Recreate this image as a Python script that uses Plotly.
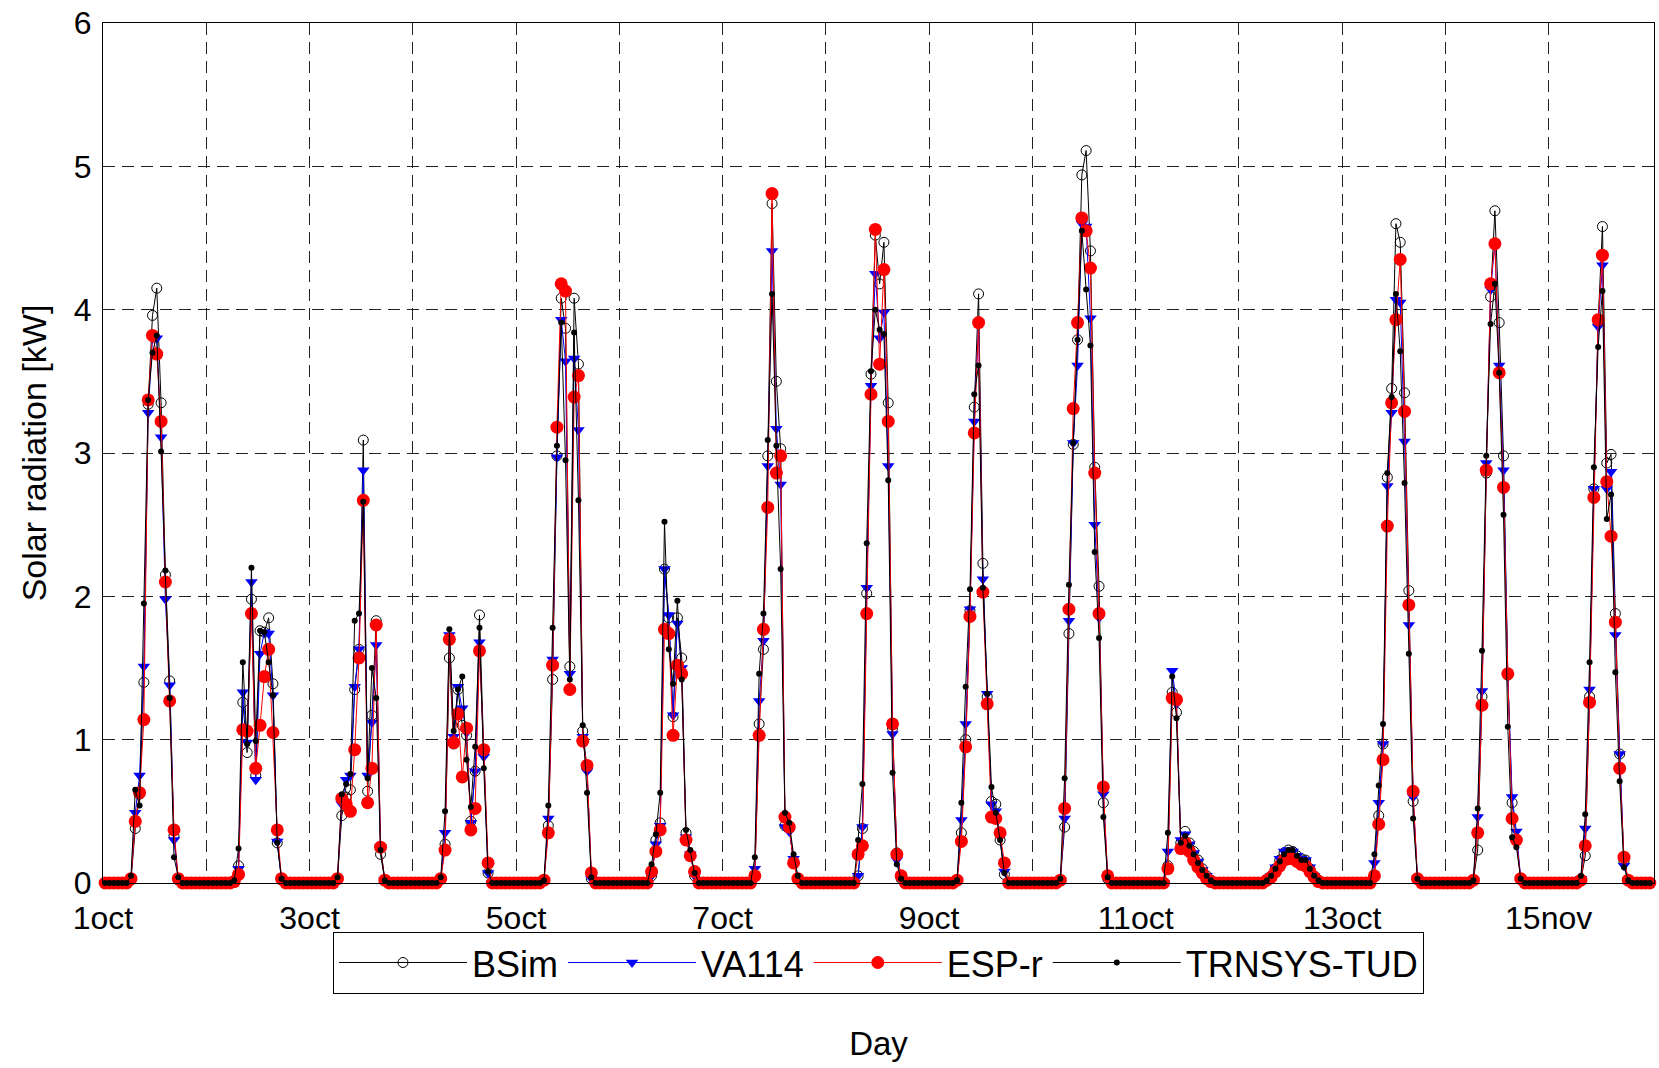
import plotly.graph_objects as go

# ---------------- data (kW) ----------------
# Each day: hourly values for hours 6..18 (slot centred at hour+0.5); all other hours are 0.
FIRST_HOUR = 6
HOURS_PER_DAY = 24
N_DAYS = 15

BSIM = [
    [.02, .38, .62, 1.40, 3.34, 3.96, 4.15, 3.35, 2.15, 1.41, .33, .02, 0],
    [.01, .12, 1.26, .91, 1.98, .75, 1.76, 1.75, 1.85, 1.39, .28, .02, 0],
    [.03, .47, .60, .65, 1.35, 1.63, 3.09, .64, 1.17, 1.83, .20, .02, 0],
    [.03, .27, 1.57, .97, 1.35, 1.10, 1.03, .43, .78, 1.87, .91, .07, 0],
    [.02, .40, 1.42, 2.98, 4.08, 3.87, 1.51, 4.08, 3.62, 1.06, .80, .03, 0],
    [0, .05, .30, .42, 2.19, 1.85, 1.16, 1.85, 1.57, .35, .20, .05, 0],
    [0, .05, 1.11, 1.63, 2.98, 4.74, 3.50, 3.03, .40, .38, .15, .03, 0],
    [0, .05, .38, 2.02, 3.55, 4.52, 4.18, 4.47, 3.35, 1.08, .21, .03, 0],
    [.02, .35, 1.00, 1.90, 3.32, 4.11, 2.23, 1.30, .57, .55, .30, .06, 0],
    [.02, .39, 1.74, 3.06, 3.79, 4.94, 5.11, 4.41, 2.90, 2.07, .56, .03, 0],
    [0, .12, 1.33, 1.19, .28, .36, .28, .22, .16, .10, .05, .02, 0],
    [.02, .05, .10, .16, .21, .23, .22, .19, .17, .16, .10, .05, .02],
    [0, .05, .47, .97, 2.83, 3.45, 4.60, 4.47, 3.42, 2.04, .57, .03, 0],
    [.02, .23, 1.30, 2.86, 4.09, 4.69, 3.91, 2.98, 1.45, .56, .30, .03, 0],
    [0, .02, .19, 1.30, 2.75, 3.91, 4.58, 2.93, 2.99, 1.88, .90, .15, .02],
]

VA114 = [
    [.03, .49, .75, 1.51, 3.28, 3.80, 3.80, 3.11, 1.98, 1.38, .30, .02, 0],
    [.01, .10, 1.33, .98, 2.10, .72, 1.60, 1.75, 1.74, 1.31, .29, .02, 0],
    [.03, .55, .72, .75, 1.37, 1.63, 2.88, .75, 1.12, 1.66, .25, .02, 0],
    [.03, .35, 1.73, 1.02, 1.37, 1.22, 1.05, .42, .78, 1.68, .88, .07, 0],
    [.02, .45, 1.56, 2.97, 3.93, 3.64, 1.46, 3.66, 3.16, 1.02, .78, .03, 0],
    [0, .05, .27, .40, 2.19, 1.87, 1.17, 1.81, 1.50, .32, .20, .05, 0],
    [0, .10, 1.27, 1.69, 2.91, 4.41, 3.17, 2.78, .39, .36, .17, .03, 0],
    [0, .05, .39, 2.06, 3.47, 4.25, 3.80, 3.98, 2.91, 1.04, .16, .03, 0],
    [.02, .44, 1.11, 1.91, 3.22, 3.91, 2.12, 1.32, .55, .50, .32, .08, 0],
    [.02, .45, 1.83, 3.07, 3.61, 4.60, 4.58, 3.94, 2.50, 1.85, .62, .04, 0],
    [0, .22, 1.48, 1.25, .30, .34, .27, .21, .15, .09, .05, .02, 0],
    [.02, .05, .11, .17, .22, .23, .22, .19, .17, .16, .11, .05, .02],
    [0, .14, .56, .97, 2.77, 3.28, 4.07, 4.05, 3.08, 1.80, .60, .03, 0],
    [.02, .46, 1.34, 2.93, 4.14, 4.46, 3.61, 2.88, 1.45, .60, .36, .03, 0],
    [0, .03, .38, 1.35, 2.75, 3.88, 4.31, 2.75, 2.87, 1.73, .90, .12, .02],
]

ESPR = [
    [.03, .43, .63, 1.14, 3.37, 3.82, 3.69, 3.22, 2.10, 1.27, .37, .03, 0],
    [.01, .06, 1.07, 1.06, 1.88, .80, 1.10, 1.44, 1.63, 1.05, .37, .03, 0],
    [.03, .59, .55, .50, .93, 1.57, 2.67, .56, .80, 1.80, .25, .02, 0],
    [.03, .23, 1.70, .98, 1.18, .74, 1.08, .37, .52, 1.62, .93, .14, 0],
    [.02, .35, 1.52, 3.18, 4.18, 4.13, 1.35, 3.39, 3.54, .99, .82, .07, 0],
    [0, .08, .22, .37, 1.77, 1.74, 1.03, 1.52, 1.46, .30, .19, .08, 0],
    [0, .05, 1.03, 1.77, 2.62, 4.81, 2.86, 2.98, .46, .39, .14, .03, 0],
    [0, .20, .26, 1.88, 3.41, 4.56, 3.62, 4.28, 3.22, 1.11, .20, .05, 0],
    [.02, .29, .95, 1.86, 3.14, 3.91, 2.03, 1.25, .46, .45, .35, .14, 0],
    [.02, .52, 1.91, 3.31, 3.91, 4.64, 4.55, 4.29, 2.86, 1.88, .67, .05, 0],
    [0, .10, 1.29, 1.28, .24, .28, .22, .16, .11, .07, .03, .01, 0],
    [.02, .04, .08, .12, .16, .17, .17, .15, .13, .12, .08, .04, .01],
    [0, .05, .41, .86, 2.49, 3.35, 3.93, 4.35, 3.29, 1.94, .64, .03, 0],
    [.02, .35, 1.24, 2.88, 4.18, 4.46, 3.56, 2.76, 1.46, .45, .30, .03, 0],
    [0, .02, .26, 1.26, 2.69, 3.93, 4.38, 2.80, 2.42, 1.82, .80, .18, .02],
]

TRNSYS = [
    [.05, .65, .54, 1.95, 3.37, 3.70, 3.82, 3.01, 2.18, 1.29, .18, .04, 0],
    [.02, .24, 1.54, .97, 2.20, .99, 1.76, 1.75, 1.54, 1.31, .28, .03, 0],
    [.04, .62, .69, .76, 1.83, 1.88, 2.66, .73, 1.50, 1.29, .23, .02, 0],
    [.04, .50, 1.77, 1.06, 1.35, 1.44, .86, .53, .95, 1.78, .80, .08, 0],
    [.02, .54, 1.78, 3.05, 3.91, 2.95, 1.42, 3.84, 2.67, 1.10, .63, .04, 0],
    [0, .13, .34, .63, 2.52, 1.63, 1.39, 1.97, 1.42, .37, .23, .07, 0],
    [0, .18, 1.46, 1.88, 3.09, 4.11, 3.05, 2.19, .49, .42, .20, .05, 0],
    [0, .30, .69, 2.37, 3.57, 4.00, 3.86, 3.83, 2.81, .77, .13, .03, 0],
    [.02, .56, 1.37, 2.05, 3.41, 3.61, 2.06, 1.32, .67, .49, .30, .07, 0],
    [.03, .73, 2.08, 3.07, 3.79, 4.55, 4.14, 3.75, 2.31, 1.71, .46, .04, 0],
    [0, .35, 1.44, 1.15, .28, .33, .26, .20, .14, .09, .05, .02, 0],
    [.02, .05, .10, .15, .20, .23, .23, .19, .16, .16, .10, .05, .02],
    [0, .20, .68, 1.11, 2.86, 3.39, 4.11, 3.71, 2.79, 1.60, .45, .03, 0],
    [.02, .52, 1.62, 2.98, 3.90, 4.18, 3.56, 2.57, 1.09, .32, .25, .03, 0],
    [0, .05, .48, 1.54, 2.90, 3.74, 4.13, 2.54, 2.71, 1.47, .71, .11, .02],
]

DAY_TICKS = list(range(15))
DAY_LABELS = ["1oct", "", "3oct", "", "5oct", "", "7oct", "", "9oct", "",
              "11oct", "", "13oct", "", "15nov"]
SERIES_NAMES = ["BSim", "VA114", "ESP-r", "TRNSYS-TUD"]


def hourly(daily):
    out = []
    for day in daily:
        full = [0.0] * HOURS_PER_DAY
        for k, v in enumerate(day):
            full[FIRST_HOUR + k] = v
        out.extend(full)
    return out


x_days = [(i + 0.5) / HOURS_PER_DAY for i in range(N_DAYS * HOURS_PER_DAY)]

styles = [
    dict(line=dict(color="black", width=1),
         marker=dict(symbol="circle-open", size=10, color="black", line=dict(width=1))),
    dict(line=dict(color="blue", width=1),
         marker=dict(symbol="triangle-down", size=11, color="blue")),
    dict(line=dict(color="red", width=1),
         marker=dict(symbol="circle", size=13, color="red")),
    dict(line=dict(color="black", width=1),
         marker=dict(symbol="circle", size=6, color="black")),
]

fig = go.Figure()
for name, data, st in zip(SERIES_NAMES, [BSIM, VA114, ESPR, TRNSYS], styles):
    fig.add_trace(go.Scatter(x=x_days, y=hourly(data), mode="lines+markers",
                             name=name, cliponaxis=False, **st))

FONT = "Liberation Sans, Arial, Helvetica, sans-serif"
grid = dict(showgrid=True, gridcolor="#222", gridwidth=1, griddash="12px,7px",
            zeroline=False, showline=True, linecolor="black", linewidth=1.2,
            mirror=True, ticks="")

fig.update_layout(
    width=1659, height=1068,
    margin=dict(l=103, r=5, t=23, b=185),
    paper_bgcolor="white", plot_bgcolor="white",
    font=dict(family=FONT, size=33, color="black"),
    showlegend=True,
    legend=dict(orientation="h", x=0.5, xanchor="center", y=-0.0565, yanchor="top",
                bordercolor="black", borderwidth=1, bgcolor="white",
                font=dict(family=FONT, size=36), itemwidth=128,
                traceorder="normal"),
    xaxis=dict(range=[0, 15.02], tickvals=DAY_TICKS, ticktext=DAY_LABELS,
               ticklabelstandoff=6, tickfont=dict(size=32),
               title=dict(text="Day", standoff=97, font=dict(size=33)), **grid),
    yaxis=dict(range=[0, 6], tickvals=[0, 1, 2, 3, 4, 5, 6], ticklabelstandoff=4,
               tickfont=dict(size=32),
               title=dict(text="Solar radiation [kW]", standoff=16, font=dict(size=34)),
               **grid),
)

fig.write_html("out.html", config={"displayModeBar": False},
               post_script="document.body.style.margin='0';")
